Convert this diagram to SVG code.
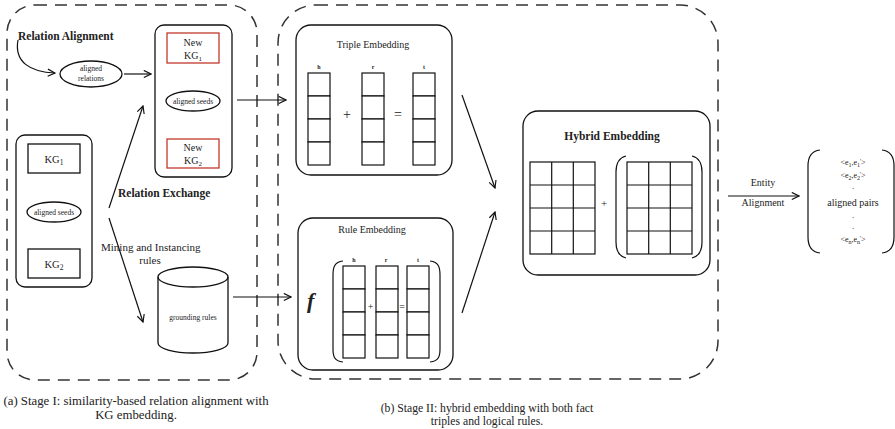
<svg xmlns="http://www.w3.org/2000/svg" width="895" height="429" viewBox="0 0 895 429">
  <style>
    text { font-family: "Liberation Serif", "Times New Roman", serif; fill: #222; }
    .dash { fill: none; stroke: #333; stroke-width: 1.5; stroke-dasharray: 12 8; }
    .box { fill: none; stroke: #111; stroke-width: 1.3; }
    .red { fill: none; stroke: #c0392b; stroke-width: 1.3; }
    .cell { fill: #fff; stroke: #111; stroke-width: 1.2; }
    .line { fill: none; stroke: #111; stroke-width: 1.2; }
    .paren { fill: none; stroke: #111; stroke-width: 1.2; }
    .bold { font-weight: bold; }
    .mid { text-anchor: middle; }
  </style>
  <defs>
    <marker id="arr" viewBox="0 0 10 10" refX="9" refY="5" markerWidth="9" markerHeight="9" markerUnits="userSpaceOnUse" orient="auto">
      <path d="M1,1 L9,5 L1,9" fill="none" stroke="#111" stroke-width="1.3"/>
    </marker>
    <!-- one vertical embedding vector: 4 stacked cells -->
    <g id="vec">
      <rect class="cell" x="0" y="0" width="22" height="23"/>
      <rect class="cell" x="0" y="23" width="22" height="23"/>
      <rect class="cell" x="0" y="46" width="22" height="23"/>
      <rect class="cell" x="0" y="69" width="22" height="23"/>
    </g>
    <!-- 3x4 embedding matrix -->
    <g id="mat">
      <rect class="cell" x="0" y="0" width="65" height="92"/>
      <path class="line" d="M21.7,0 V92 M43.3,0 V92 M0,23 H65 M0,46 H65 M0,69 H65"/>
    </g>
  </defs>

  <!-- stage frames -->
  <rect id="stage1" class="dash" x="7" y="5" width="250" height="375" rx="28"/>
  <rect id="stage2" class="dash" x="278" y="5" width="440" height="374" rx="38"/>

  <!-- connectors -->
  <g id="connectors">
    <path class="line" d="M18,40 C14,62 30,72 55,73" marker-end="url(#arr)"/>
    <path class="line" d="M124,74 H151" marker-end="url(#arr)"/>
    <path class="line" d="M109,208 L143,106" marker-end="url(#arr)"/>
    <path class="line" d="M109,218 L143,322" marker-end="url(#arr)"/>
    <path class="line" d="M237,100 H286" marker-end="url(#arr)"/>
    <path class="line" d="M233,297 H291" marker-end="url(#arr)"/>
    <path class="line" d="M462,95 L495,188" marker-end="url(#arr)"/>
    <path class="line" d="M462,313 L495,212" marker-end="url(#arr)"/>
    <path class="line" d="M728,196 H799" marker-end="url(#arr)"/>
  </g>

  <!-- stage I texts -->
  <text class="bold" x="18" y="40" font-size="11.5">Relation Alignment</text>
  <text class="bold" x="118" y="197" font-size="11.5">Relation Exchange</text>
  <text x="101" y="251" font-size="11">Mining and  Instancing</text>
  <text class="mid" x="150" y="264" font-size="11">rules</text>

  <g id="aligned-relations">
    <ellipse class="box" cx="91" cy="74" rx="31" ry="13"/>
    <text class="mid" x="91" y="71" font-size="7.5">aligned</text>
    <text class="mid" x="91" y="81" font-size="7.5">relations</text>
  </g>

  <g id="new-kgs">
    <rect class="box" x="155" y="25" width="77" height="152" rx="9"/>
    <rect class="red" x="167" y="33" width="52" height="30"/>
    <text class="mid" x="193" y="46" font-size="10">New</text>
    <text class="mid" x="193" y="59" font-size="10">KG<tspan font-size="7" dy="2">1</tspan></text>
    <ellipse class="box" cx="193" cy="101" rx="27" ry="10"/>
    <text class="mid" x="193" y="104" font-size="7.5">aligned seeds</text>
    <rect class="red" x="167" y="139" width="52" height="29"/>
    <text class="mid" x="193" y="151" font-size="10">New</text>
    <text class="mid" x="193" y="164" font-size="10">KG<tspan font-size="7" dy="2">2</tspan></text>
  </g>

  <g id="kgs">
    <rect class="box" x="16" y="135" width="76" height="152" rx="9"/>
    <rect class="box" x="28" y="144" width="52" height="29"/>
    <text class="mid" x="54" y="163" font-size="10.5">KG<tspan font-size="7.5" dy="2">1</tspan></text>
    <ellipse class="box" cx="54" cy="212" rx="27" ry="10"/>
    <text class="mid" x="54" y="215" font-size="7.5">aligned seeds</text>
    <rect class="box" x="28" y="249" width="52" height="29"/>
    <text class="mid" x="54" y="268" font-size="10.5">KG<tspan font-size="7.5" dy="2">2</tspan></text>
  </g>

  <g id="grounding-rules">
    <path class="box" d="M158,277 V343 A35,10 0 0 0 228,343 V277"/>
    <ellipse class="box" cx="193" cy="277" rx="35" ry="10"/>
    <text class="mid" x="193" y="320" font-size="7.5">grounding rules</text>
  </g>

  <!-- stage II -->
  <g id="triple-embedding">
    <rect class="box" x="296" y="25" width="156" height="150" rx="15"/>
    <text class="mid" x="373" y="48" font-size="10">Triple Embedding</text>
    <text class="mid bold" x="319" y="69" font-size="6">h</text>
    <text class="mid bold" x="373" y="69" font-size="6">r</text>
    <text class="mid bold" x="424" y="69" font-size="6">t</text>
    <use href="#vec" x="308" y="73"/>
    <use href="#vec" x="362" y="73"/>
    <use href="#vec" x="413" y="73"/>
    <text class="mid" x="347" y="119" font-size="14">+</text>
    <text class="mid" x="398" y="119" font-size="14">=</text>
  </g>

  <g id="rule-embedding">
    <rect class="box" x="298" y="218" width="155" height="152" rx="15"/>
    <text class="mid" x="372" y="233" font-size="10">Rule Embedding</text>
    <text x="307" y="308" font-size="22" font-style="italic" font-weight="bold">f</text>
    <path class="paren" d="M343,261 C334,262 333,268 333,275 V349 C333,356 334,361 343,362"/>
    <path class="paren" d="M430,261 C439,262 440,268 440,275 V349 C440,356 439,361 430,362"/>
    <text class="mid bold" x="354" y="262" font-size="6">h</text>
    <text class="mid bold" x="386" y="262" font-size="6">r</text>
    <text class="mid bold" x="418" y="262" font-size="6">t</text>
    <use href="#vec" x="343" y="266"/>
    <use href="#vec" x="376" y="266"/>
    <use href="#vec" x="407" y="266"/>
    <text class="mid" x="370.5" y="310" font-size="10">+</text>
    <text class="mid" x="402" y="310" font-size="10">=</text>
  </g>

  <g id="hybrid-embedding">
    <rect class="box" x="523" y="111" width="187" height="164" rx="15"/>
    <text class="mid bold" x="612" y="140" font-size="11.5">Hybrid Embedding</text>
    <use href="#mat" x="530" y="162"/>
    <use href="#mat" x="627" y="162"/>
    <path class="paren" d="M626,156 C618,158 616,164 616,172 V242 C616,250 618,256 626,258"/>
    <path class="paren" d="M692,156 C700,158 702,164 702,172 V242 C702,250 700,256 692,258"/>
    <text class="mid" x="604" y="207" font-size="11">+</text>
  </g>

  <g id="entity-alignment-label">
    <text class="mid" x="763" y="186" font-size="10">Entity</text>
    <text class="mid" x="763" y="206" font-size="10">Alignment</text>
  </g>

  <g id="aligned-pairs">
    <path class="paren" d="M820,150 C811,151 808,157 808,166 V237 C808,246 811,252 820,253"/>
    <path class="paren" d="M882,150 C891,151 894,157 894,166 V237 C894,246 891,252 882,253"/>
    <text class="mid" x="853" y="165" font-size="8" fill="#444">&lt;e<tspan font-size="6" dy="1.5">1</tspan><tspan dy="-1.5">,e</tspan><tspan font-size="6" dy="1.5">1</tspan><tspan font-size="6" dy="-4">'</tspan><tspan dy="2.5">&gt;</tspan></text>
    <text class="mid" x="853" y="178" font-size="8" fill="#444">&lt;e<tspan font-size="6" dy="1.5">2</tspan><tspan dy="-1.5">,e</tspan><tspan font-size="6" dy="1.5">2</tspan><tspan font-size="6" dy="-4">'</tspan><tspan dy="2.5">&gt;</tspan></text>
    <text class="mid" x="853" y="189" font-size="9">.</text>
    <text class="mid" x="853" y="206" font-size="10">aligned pairs</text>
    <text class="mid" x="853" y="218" font-size="9">.</text>
    <text class="mid" x="853" y="229" font-size="9">.</text>
    <text class="mid" x="853" y="242" font-size="8" fill="#444">&lt;e<tspan font-size="6" dy="1.5">n</tspan><tspan dy="-1.5">,e</tspan><tspan font-size="6" dy="1.5">n</tspan><tspan font-size="6" dy="-4">'</tspan><tspan dy="2.5">&gt;</tspan></text>
  </g>

  <!-- captions -->
  <text class="mid" x="136" y="405" font-size="12.8">(a) Stage I: similarity-based relation alignment with</text>
  <text class="mid" x="136" y="419" font-size="12.8">KG embedding.</text>
  <text class="mid" x="487" y="412" font-size="11.7">(b) Stage II: hybrid embedding with both fact</text>
  <text class="mid" x="487" y="425" font-size="11.7">triples and logical rules.</text>
</svg>
